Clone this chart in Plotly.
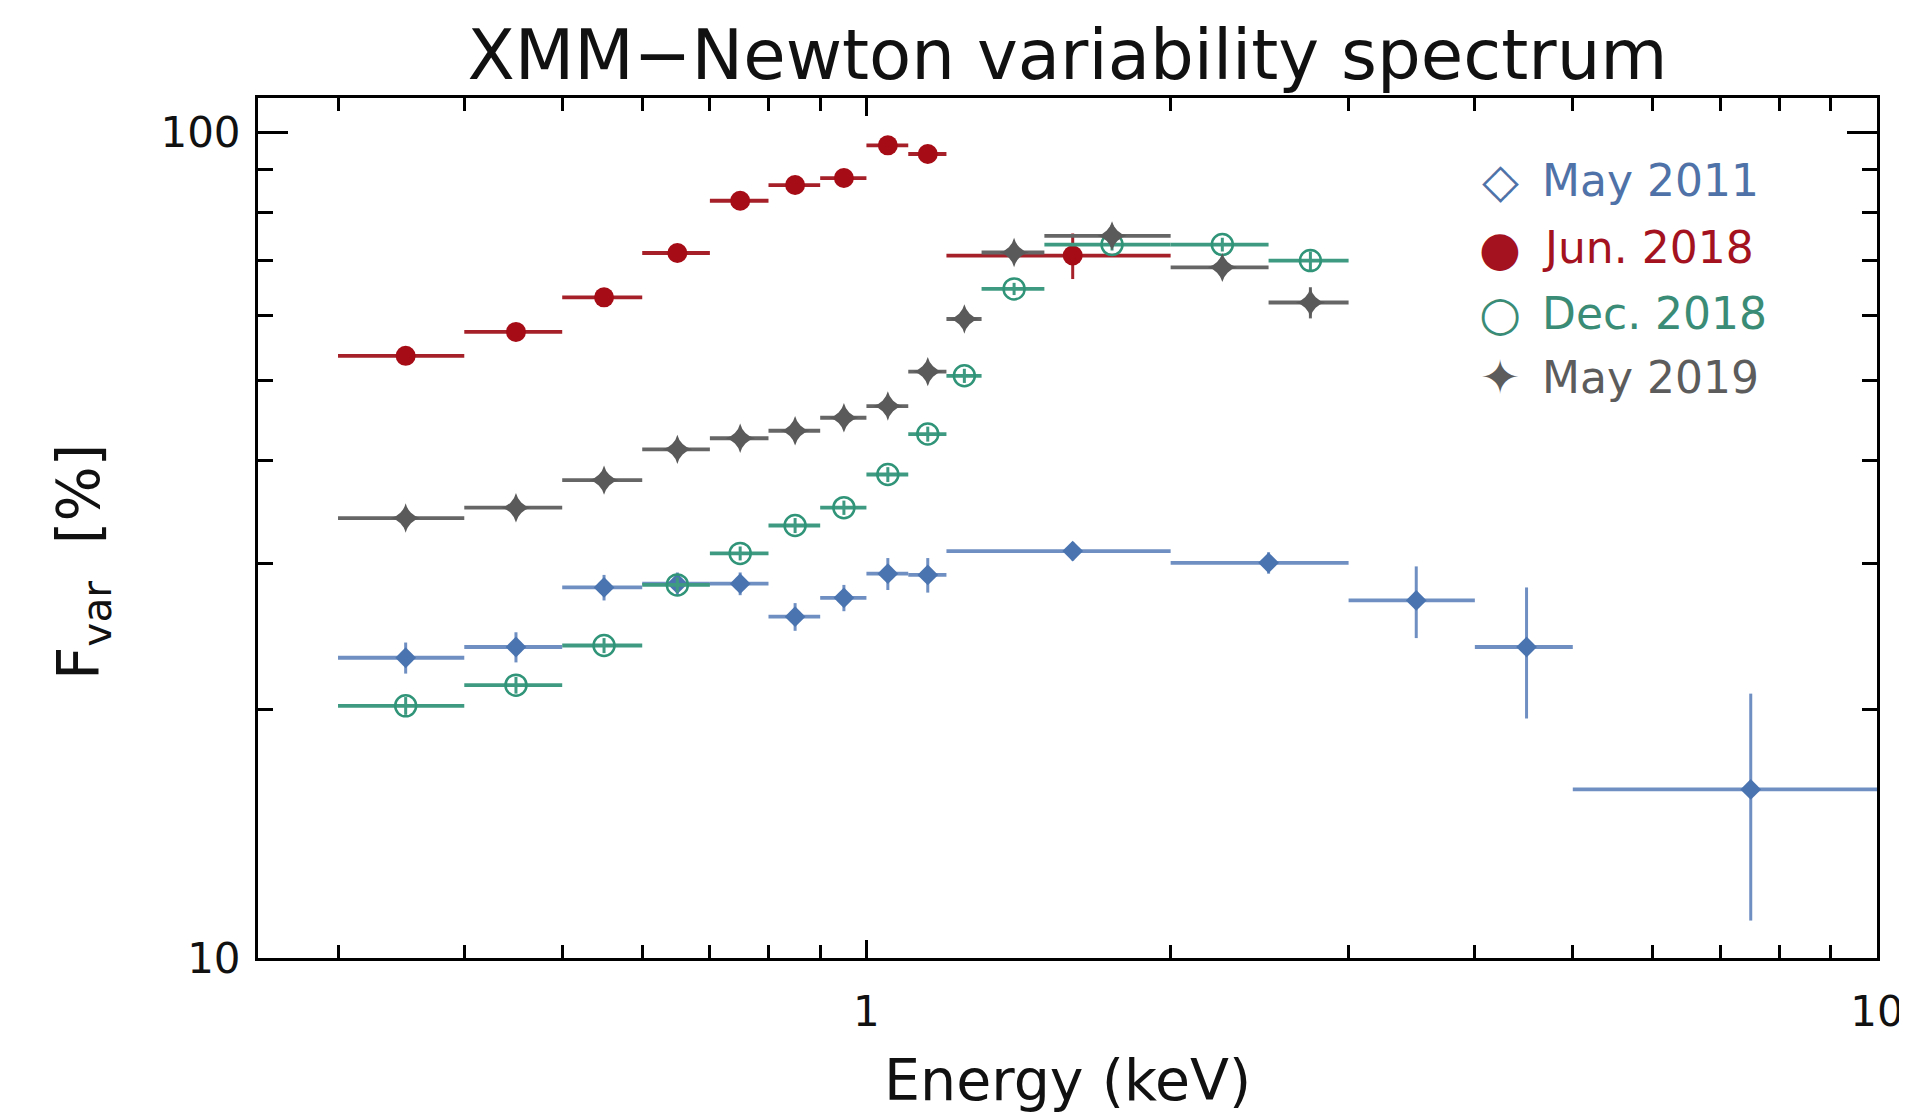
import plotly.graph_objects as go

# ---------------- data ----------------
# May 2011
e_2011 = [0.35, 0.45, 0.55, 0.65, 0.75, 0.85, 0.95, 1.05, 1.15, 1.6, 2.5, 3.5, 4.5, 7.5]
de_2011 = [0.05, 0.05, 0.05, 0.05, 0.05, 0.05, 0.05, 0.05, 0.05, 0.4, 0.5, 0.5, 0.5, 2.5]
f_2011 = [23.1, 23.8, 28.1, 28.4, 28.4, 25.9, 27.3, 29.2, 29.1, 31.1, 30.1, 27.1, 23.8, 16.0]
df_2011 = [1.0, 1.0, 1.0, 0.9, 0.9, 1.0, 1.0, 1.3, 1.4, 0.8, 0.9, 2.7, 4.3, 4.9]

# Jun. 2018
e_jun18 = [0.35, 0.45, 0.55, 0.65, 0.75, 0.85, 0.95, 1.05, 1.15, 1.6]
de_jun18 = [0.05, 0.05, 0.05, 0.05, 0.05, 0.05, 0.05, 0.05, 0.05, 0.4]
f_jun18 = [53.6, 57.3, 63.1, 71.4, 82.6, 86.3, 88.0, 96.4, 94.1, 70.9]
df_jun18 = [0.8, 0.8, 0.9, 1.0, 1.1, 1.2, 1.3, 1.4, 1.6, 4.5]

# Dec. 2018
e_dec18 = [0.35, 0.45, 0.55, 0.65, 0.75, 0.85, 0.95, 1.05, 1.15, 1.25, 1.4, 1.75, 2.25, 2.75]
de_dec18 = [0.05, 0.05, 0.05, 0.05, 0.05, 0.05, 0.05, 0.05, 0.05, 0.05, 0.1, 0.25, 0.25, 0.25]
f_dec18 = [20.2, 21.4, 23.9, 28.3, 30.9, 33.4, 35.1, 38.5, 43.1, 50.7, 64.6, 73.1, 73.1, 69.9]
df_dec18 = [0.5, 0.5, 0.5, 0.6, 0.6, 0.7, 0.7, 0.8, 0.9, 1.0, 1.1, 1.2, 1.4, 1.8]

# May 2019
e_2019 = [0.35, 0.45, 0.55, 0.65, 0.75, 0.85, 0.95, 1.05, 1.15, 1.25, 1.4, 1.75, 2.25, 2.75]
de_2019 = [0.05, 0.05, 0.05, 0.05, 0.05, 0.05, 0.05, 0.05, 0.05, 0.05, 0.1, 0.25, 0.25, 0.25]
f_2019 = [34.1, 35.1, 37.9, 41.3, 42.6, 43.5, 45.1, 46.6, 51.3, 59.4, 71.5, 74.9, 68.6, 62.2]
df_2019 = [1.0, 1.0, 1.0, 1.0, 1.0, 1.1, 1.1, 1.2, 1.3, 1.4, 1.5, 2.3, 2.0, 2.7]

series_names = ["May 2011", "Jun. 2018", "Dec. 2018", "May 2019"]
legend_symbols = ["\u25C7", "\u25CF", "\u25CB", "\u2726"]

x_major_ticks = [1, 10]
x_major_labels = ["1", "10"]
x_minor_ticks = [0.3, 0.4, 0.5, 0.6, 0.7, 0.8, 0.9, 2, 3, 4, 5, 6, 7, 8, 9]
y_major_ticks = [10, 100]
y_major_labels = ["10", "100"]
y_minor_ticks = [20, 30, 40, 50, 60, 70, 80, 90]

# ---------------- styles ----------------
FONT = "DejaVu Sans"
c_blue, c_blue_line = "#4a74b0", "#6f8fc2"
c_red, c_red_line = "#a50c16", "#a52028"
c_green, c_green_line = "#2f9478", "#3f9a82"
c_gray, c_gray_line = "#5a5a5a", "#666666"

fig = go.Figure()


def add(x, dx, y, dy, name, color, lcolor, symbol, size, lw=0):
    fig.add_trace(go.Scatter(
        x=x, y=y, mode="markers", name=name, showlegend=False,
        marker=dict(symbol=symbol, size=size, color=color,
                    line=dict(width=lw, color=color)),
        error_x=dict(type="data", array=dx, symmetric=True, width=0,
                     thickness=3.8, color=lcolor),
        error_y=dict(type="data", array=dy, symmetric=True, width=0,
                     thickness=3, color=lcolor),
    ))


add(e_2011, de_2011, f_2011, df_2011, series_names[0], c_blue, c_blue_line, "diamond", 16)
add(e_jun18, de_jun18, f_jun18, df_jun18, series_names[1], c_red, c_red_line, "circle", 20)
add(e_dec18, de_dec18, f_dec18, df_dec18, series_names[2], c_green, c_green_line, "circle-open", 21, 2.5)
add(e_2019, de_2019, f_2019, df_2019, series_names[3], c_gray, c_gray_line, "star-diamond", 21)

# ---------------- layout ----------------
OFF = 8  # page body margin
W, H = 1907, 1116
# target screen positions of the plot frame
SL, SR, ST, SB = 258, 1877, 98, 958
L, T = SL - OFF, ST - OFF
R, B = W - (SR - OFF), H - (SB - OFF)
pw, ph = SR - SL, SB - ST


def px(X):
    return (X - SL) / pw


def py(Y):
    return (SB - Y) / ph


axis_common = dict(
    type="log", showgrid=False, zeroline=False, showline=True,
    linecolor="black", linewidth=3, mirror="allticks", ticks="inside",
    tickcolor="black", tickwidth=3,
    tickfont=dict(family=FONT, size=42, color="#111"),
)

fig.update_xaxes(
    **axis_common, range=[-0.60206, 1.0], tickmode="array",
    tickvals=x_major_ticks, ticktext=x_major_labels, ticklen=18,
    ticklabelstandoff=15,
    minor=dict(tickmode="array", tickvals=x_minor_ticks, ticks="inside",
               ticklen=13, tickwidth=2.5, tickcolor="black"),
)
fig.update_yaxes(
    **axis_common, range=[1.0, 2.0414], tickmode="array",
    tickvals=y_major_ticks, ticktext=y_major_labels, ticklen=30,
    ticklabelstandoff=6,
    minor=dict(tickmode="array", tickvals=y_minor_ticks, ticks="inside",
               ticklen=15, tickwidth=2.5, tickcolor="black"),
)

annotations = [
    dict(text="Energy (keV)", xref="paper", yref="paper", x=0.5, y=py(1080),
         xanchor="center", yanchor="middle", showarrow=False,
         font=dict(family=FONT, size=57, color="#111")),
    dict(text="F<sub>var</sub>&nbsp;&nbsp;[%]", xref="paper", yref="paper",
         x=px(83), y=py(562), textangle=-90, xanchor="center", yanchor="middle",
         showarrow=False, font=dict(family=FONT, size=58, color="#111")),
]

legend_colors = ["#4f72a8", "#a3121e", "#3a8c76", "#5c5c5c"]
legend_rows = [180, 248, 313, 377]
for sym, name, col, yy in zip(legend_symbols, series_names, legend_colors, legend_rows):
    annotations.append(dict(text=sym, xref="paper", yref="paper", x=px(1500), y=py(yy),
                            xanchor="center", yanchor="middle", showarrow=False,
                            font=dict(family=FONT, size=48, color=col)))
    annotations.append(dict(text=name, xref="paper", yref="paper", x=px(1540), y=py(yy),
                            xanchor="left", yanchor="middle", showarrow=False,
                            font=dict(family=FONT, size=44, color=col)))

fig.update_layout(
    width=W, height=H, autosize=False,
    margin=dict(l=L, r=R, t=T, b=B, pad=0),
    paper_bgcolor="white", plot_bgcolor="white",
    showlegend=False,
    title=dict(text="XMM\u2212Newton variability spectrum", x=0.5, xref="paper",
               xanchor="center", y=1 - (55 - OFF) / H, yref="container", yanchor="middle",
               font=dict(family=FONT, size=69, color="#111")),
    annotations=annotations,
)

fig.write_html("out.html")
